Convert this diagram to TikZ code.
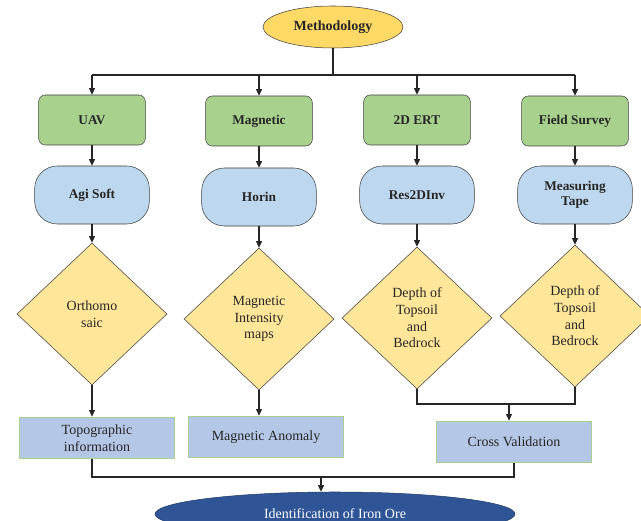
\documentclass[tikz,border=0pt]{standalone}
\usepackage{fontspec}
\setmainfont{Liberation Serif}
\usetikzlibrary{shapes.geometric, arrows.meta}
\definecolor{methgold}{HTML}{FFD966}
\definecolor{stepgreen}{HTML}{A9D18E}
\definecolor{toolblue}{HTML}{BDD7EE}
\definecolor{outgold}{HTML}{FFE699}
\definecolor{resblue}{HTML}{B4C7E7}
\definecolor{resedge}{HTML}{A9D18E}
\definecolor{orenavy}{HTML}{2F5597}
\definecolor{linegray}{HTML}{404040}

\begin{document}
\begin{tikzpicture}[x=0.75pt, y=-0.75pt,
  every node/.style={font=\fontsize{10.5}{12.5}\selectfont, align=center, text=black!85},
  head/.style={ellipse, draw=linegray, fill=methgold, minimum width=105pt, minimum height=31.5pt,
               font=\fontsize{10.5}{12.5}\selectfont\bfseries},
  method/.style={draw=linegray, fill=stepgreen, rounded corners=5pt, minimum width=80pt,
                 minimum height=37.5pt, font=\fontsize{10}{11.5}\selectfont\bfseries},
  tool/.style={draw=linegray, fill=toolblue, rounded corners=17pt, minimum width=86pt,
               minimum height=43.5pt, font=\fontsize{10}{11.5}\selectfont\bfseries},
  outp/.style={diamond, draw=linegray, fill=outgold, minimum width=112.5pt, minimum height=106.5pt, inner sep=0pt},
  result/.style={draw=resedge, fill=resblue, line width=1pt, minimum width=116pt, minimum height=31pt},
  goal/.style={ellipse, draw=orenavy!70!black, fill=orenavy, text=white, minimum width=270pt, minimum height=33pt},
  arr/.style={-{Triangle[length=5pt, width=4.5pt]}, line width=1pt, color=black!85},
  link/.style={line width=1pt, color=black!85}
]
\clip (0,0) rectangle (641,520);

\node[head] (meth) at (333,27) {Methodology};

\node[method] (uav) at (92,120)  {UAV};
\node[method] (mag) at (259,121) {Magnetic};
\node[method] (ert) at (417,120) {2D ERT};
\node[method] (fs)  at (575,121) {Field Survey};

\node[tool] (agi)  at (92,195)  {Agi Soft};
\node[tool] (hor)  at (259,197) {Horin};
\node[tool] (res)  at (417,195) {Res2DInv};
\node[tool] (tape) at (575,195) {Measuring\\Tape};

\node[outp] (orth)   at (92,314)  {Orthomo\\saic};
\node[outp] (magint) at (259,319) {Magnetic\\Intensity\\maps};
\node[outp] (dep1)   at (417,318) {Depth of\\Topsoil\\and\\Bedrock};
\node[outp] (dep2)   at (575,316) {Depth of\\Topsoil\\and\\Bedrock};

\node[result] (topo)  at (97,438)  {Topographic\\information};
\node[result] (magan) at (266,437) {Magnetic Anomaly};
\node[result] (cv)    at (514,442) {Cross Validation};

\node[goal] (ore) at (335,514) {Identification of Iron Ore};

% split from the top
\coordinate (split) at (333,75);
\draw[link] (meth) -- (split);
\draw[link] (uav |- split) -- (fs |- split);
\foreach \n in {uav, mag, ert, fs} \draw[arr] (\n |- split) -- (\n);

\foreach \a/\b in {uav/agi, agi/orth, mag/hor, hor/magint, ert/res, res/dep1, fs/tape, tape/dep2}
  \draw[arr] (\a) -- (\b);

\draw[arr] (orth.south) -- (orth.south |- topo.north);
\draw[arr] (magint.south) -- (magint.south |- magan.north);

% merge both depth results
\coordinate (merge) at (509,404);
\draw[link] (dep1.south) |- (merge) -| (dep2.south);
\draw[arr] (merge) -- (merge |- cv.north);

% merge to the final result
\coordinate (join) at (321,477);
\draw[link] (orth.south |- topo.south) |- (join) -| (cv.south);
\draw[arr] (join) -- (join |- ore.north);
\end{tikzpicture}
\end{document}
